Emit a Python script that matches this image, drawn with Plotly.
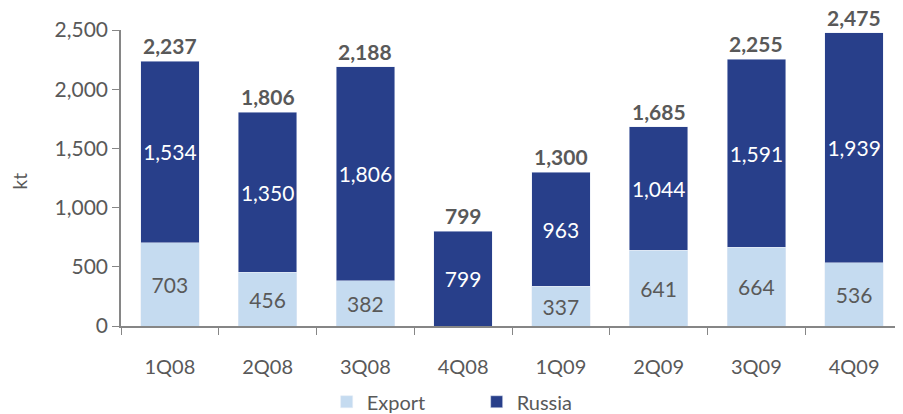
import plotly.graph_objects as go

quarters = ["1Q08", "2Q08", "3Q08", "4Q08", "1Q09", "2Q09", "3Q09", "4Q09"]
export = [703, 456, 382, 0, 337, 641, 664, 536]
russia = [1534, 1350, 1806, 799, 963, 1044, 1591, 1939]
totals = [e + r for e, r in zip(export, russia)]

FONT = "Lato"
GREY = "#595959"
C_EXP = "#C5DBF0"
C_RUS = "#283F8A"
FS = 21

fig = go.Figure()
fig.add_trace(go.Bar(
    name="Export", x=quarters, y=export, marker_color=C_EXP,
    text=[f"{v:,}" if v else "" for v in export],
    textposition="inside", insidetextanchor="middle", textangle=0,
    textfont=dict(family=FONT, size=FS, color=GREY),
    constraintext="none",
))
fig.add_trace(go.Bar(
    name="Russia", x=quarters, y=russia, marker_color=C_RUS,
    text=[f"{v:,}" for v in russia],
    textposition="inside", insidetextanchor="middle", textangle=0,
    textfont=dict(family=FONT, size=FS, color="white"),
    constraintext="none",
))
for q, t in zip(quarters, totals):
    fig.add_annotation(x=q, y=t, text=f"<b>{t:,}</b>", showarrow=False,
                       yanchor="bottom", yshift=1,
                       font=dict(family=FONT, size=FS, color=GREY))
fig.add_annotation(xref="paper", yref="paper", x=-0.147, y=0.49, text="kt",
                   textangle=-90, showarrow=False,
                   font=dict(family=FONT, size=19, color=GREY))

fig.update_layout(
    barmode="stack", bargap=0.4,
    width=895, height=414,
    margin=dict(l=113, r=0, t=22, b=96),
    plot_bgcolor="white", paper_bgcolor="white",
    font=dict(family=FONT, size=20, color=GREY),
    legend=dict(orientation="h", traceorder="normal",
                x=0.263, xanchor="left", y=-0.19, yanchor="top",
                font=dict(family=FONT, size=20, color=GREY),
                entrywidth=105, entrywidthmode="pixels",
                itemwidth=30),
    uniformtext=dict(mode=False),
)
fig.update_xaxes(
    showline=True, linecolor="#868686", linewidth=1.5,
    ticks="outside", tickson="boundaries", ticklen=7, tickcolor="#868686",
    tickfont=dict(family=FONT, size=20, color=GREY),
    ticklabelstandoff=22,
    showgrid=False, automargin=False,
)
fig.update_yaxes(
    range=[0, 2500], dtick=500, tickformat=",",
    showline=True, linecolor="#868686", linewidth=1.5,
    ticks="outside", ticklen=7, tickcolor="#868686",
    tickfont=dict(family=FONT, size=21, color=GREY),
    showgrid=False, zeroline=False, automargin=False,
)
fig.write_html("out.html", config={"displayModeBar": False})
